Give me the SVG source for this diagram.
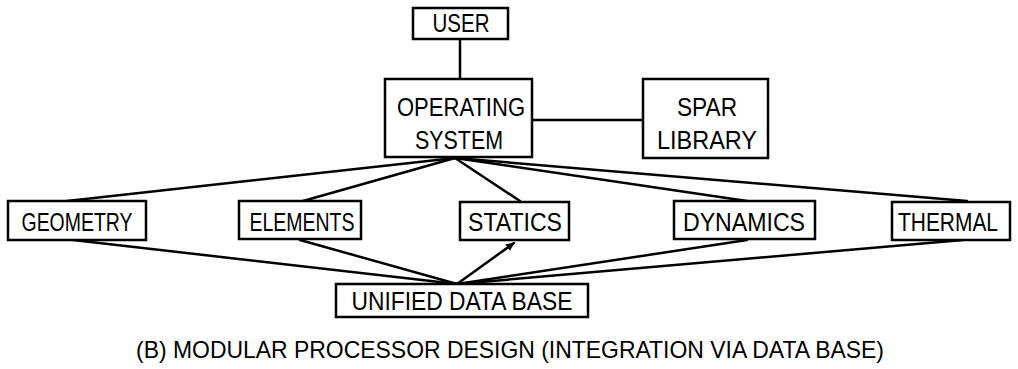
<svg xmlns="http://www.w3.org/2000/svg" width="1018" height="369" viewBox="0 0 1018 369">
<style>
.box{fill:#fff;stroke:#000;stroke-width:2.5}
.t{font-family:"Liberation Sans",Arial,sans-serif;font-size:25px;fill:#000;text-anchor:middle}
.cap{font-size:24px}
.c{fill:none;stroke:#000;stroke-width:2.5;stroke-linecap:round}
</style>
<defs>
<marker id="ah" markerWidth="10" markerHeight="10" refX="8" refY="5" orient="auto" markerUnits="userSpaceOnUse">
<path d="M0,1 L9,5 L0,9 Z" fill="#000"/>
</marker>
</defs>
<rect width="1018" height="369" fill="#fff"/>
<g id="connectors">
<line class="c" x1="460" y1="39" x2="460" y2="79"/>
<line class="c" x1="532" y1="120" x2="643" y2="120"/>
<line class="c" x1="455" y1="158" x2="67" y2="201"/>
<line class="c" x1="455" y1="158" x2="303" y2="201"/>
<line class="c" x1="455" y1="158" x2="520" y2="201"/>
<line class="c" x1="455" y1="158" x2="747" y2="201"/>
<line class="c" x1="455" y1="158" x2="967" y2="201"/>
<line class="c" x1="457" y1="284" x2="73" y2="240"/>
<line class="c" x1="457" y1="284" x2="300" y2="240"/>
<line class="c" x1="457" y1="284" x2="514" y2="243" marker-end="url(#ah)"/>
<line class="c" x1="457" y1="284" x2="747" y2="240"/>
<line class="c" x1="457" y1="284" x2="963" y2="240"/>
</g>
<g id="user"><rect class="box" x="413" y="8" width="95" height="31"/><text class="t" x="461" y="32" textLength="57" lengthAdjust="spacingAndGlyphs">USER</text></g>
<g id="os"><rect class="box" x="385" y="79" width="147" height="78"/><text class="t" x="461" y="116" textLength="128" lengthAdjust="spacingAndGlyphs">OPERATING</text><text class="t" x="459" y="149" textLength="88" lengthAdjust="spacingAndGlyphs">SYSTEM</text></g>
<g id="spar"><rect class="box" x="643" y="79" width="125" height="79"/><text class="t" x="707" y="116" textLength="60" lengthAdjust="spacingAndGlyphs">SPAR</text><text class="t" x="707" y="149" textLength="100" lengthAdjust="spacingAndGlyphs">LIBRARY</text></g>
<g id="geometry"><rect class="box" x="8" y="201" width="138" height="39"/><text class="t" x="77" y="231" textLength="111" lengthAdjust="spacingAndGlyphs">GEOMETRY</text></g>
<g id="elements"><rect class="box" x="239" y="201" width="122" height="38"/><text class="t" x="302" y="231" textLength="105" lengthAdjust="spacingAndGlyphs">ELEMENTS</text></g>
<g id="statics"><rect class="box" x="460" y="202" width="109" height="38"/><text class="t" x="515" y="231" textLength="94" lengthAdjust="spacingAndGlyphs">STATICS</text></g>
<g id="dynamics"><rect class="box" x="674" y="201" width="141" height="38"/><text class="t" x="744" y="231" textLength="122" lengthAdjust="spacingAndGlyphs">DYNAMICS</text></g>
<g id="thermal"><rect class="box" x="892" y="202" width="118" height="38"/><text class="t" x="948" y="231" textLength="100" lengthAdjust="spacingAndGlyphs">THERMAL</text></g>
<g id="database"><rect class="box" x="336" y="284" width="252" height="33"/><text class="t" x="462" y="310" textLength="221" lengthAdjust="spacingAndGlyphs">UNIFIED DATA BASE</text></g>
<text class="t cap" x="510" y="358" textLength="748" lengthAdjust="spacingAndGlyphs">(B) MODULAR PROCESSOR DESIGN (INTEGRATION VIA DATA BASE)</text>
</svg>
